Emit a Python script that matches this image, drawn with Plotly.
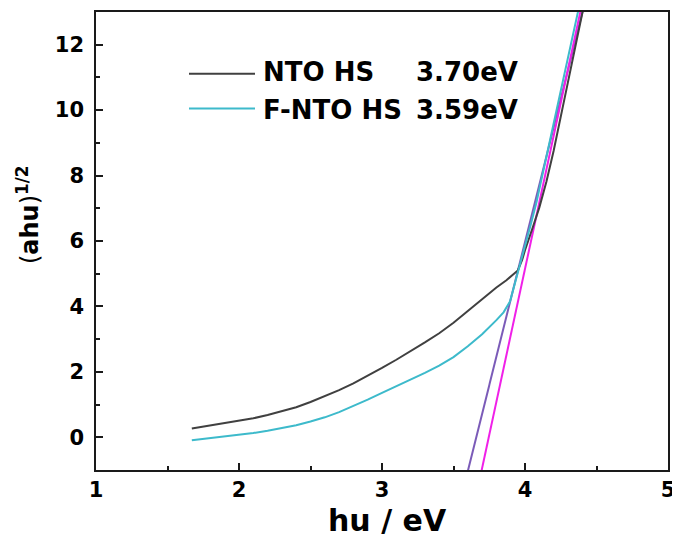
import plotly.graph_objects as go

# ---- data ----
nto_x = [1.67, 1.8, 1.9, 2.0, 2.1, 2.2, 2.3, 2.4, 2.5, 2.6, 2.7, 2.8, 2.9, 3.0, 3.1, 3.2,
         3.3, 3.4, 3.5, 3.6, 3.7, 3.8, 3.87, 3.92, 3.95, 3.98, 4.0, 4.05, 4.1, 4.15,
         4.2, 4.3, 4.4, 4.45]
nto_y = [0.27, 0.36, 0.43, 0.50, 0.58, 0.68, 0.79, 0.92, 1.08, 1.25, 1.44, 1.65, 1.88, 2.12, 2.37, 2.63,
         2.90, 3.18, 3.50, 3.86, 4.22, 4.58, 4.80, 4.98, 5.10, 5.42, 5.72, 6.36, 7.02, 7.82,
         8.75, 10.85, 12.95, 14.0]

fnto_x = [1.67, 1.8, 1.9, 2.0, 2.1, 2.2, 2.3, 2.4, 2.5, 2.6, 2.7, 2.8, 2.9, 3.0, 3.1, 3.2,
          3.3, 3.4, 3.5, 3.6, 3.7, 3.8, 3.85, 3.895, 3.93, 3.96, 4.0, 4.04, 4.08, 4.15,
          4.25, 4.37, 4.42]
fnto_y = [-0.09, -0.03, 0.02, 0.07, 0.13, 0.20, 0.28, 0.37, 0.48, 0.61, 0.77, 0.95, 1.15, 1.36, 1.56, 1.76,
          1.97, 2.19, 2.45, 2.78, 3.15, 3.58, 3.82, 4.15, 4.70, 5.20, 5.85, 6.50, 7.18, 8.55,
          10.55, 12.94, 14.0]

fit_fnto_x = [3.545, 4.459]   # tangent line, F-NTO HS (3.59 eV)
fit_fnto_y = [-2.0, 14.0]
fit_nto_x = [3.648, 4.436]    # tangent line, NTO HS (3.70 eV)
fit_nto_y = [-2.0, 14.0]

legend_names = ["NTO HS", "F-NTO HS"]
legend_gaps = ["3.70eV", "3.59eV"]
x_ticks = [1, 2, 3, 4, 5]
y_ticks = [0, 2, 4, 6, 8, 10, 12]

c_nto = "#404040"
c_fnto = "#3DBACB"
c_fit_f = "#7B5BB8"
c_fit_n = "#F020E8"
FONT = "DejaVu Sans"

fig = go.Figure()
fig.add_trace(go.Scatter(x=fit_fnto_x, y=fit_fnto_y, mode="lines",
                         line=dict(color=c_fit_f, width=2), showlegend=False))
fig.add_trace(go.Scatter(x=fit_nto_x, y=fit_nto_y, mode="lines",
                         line=dict(color=c_fit_n, width=2), showlegend=False))
fig.add_trace(go.Scatter(x=nto_x, y=nto_y, mode="lines", name="NTO HS",
                         line=dict(color=c_nto, width=2), showlegend=False))
fig.add_trace(go.Scatter(x=fnto_x, y=fnto_y, mode="lines", name="F-NTO HS",
                         line=dict(color=c_fnto, width=2), showlegend=False))

# page has an 8px body margin: plot area in window pixels is x 96..668, y 10..470
OFF = 8
W, H = 680 - OFF, 543 - OFF
L, T = 96 - OFF, 10 - OFF
pw, ph = 572, 460
R = W - L - pw
B = H - T - ph


def px(xw):
    return (xw - 96) / pw


def py(yw):
    return (470 - yw) / ph


# manual legend
rows_y = [72, 107]
text_y = [70, 108]
colors = [c_nto, c_fnto]
shapes = []
annotations = []
for i in range(2):
    shapes.append(dict(type="line", xref="paper", yref="paper",
                       x0=px(189), x1=px(255), y0=py(rows_y[i]), y1=py(rows_y[i]),
                       line=dict(color=colors[i], width=2)))
    annotations.append(dict(xref="paper", yref="paper", x=px(261), y=py(text_y[i]),
                            text=legend_names[i], showarrow=False, xanchor="left", yanchor="middle",
                            font=dict(family=FONT, size=26, color="black", weight="bold")))
    annotations.append(dict(xref="paper", yref="paper", x=px(520), y=py(text_y[i]),
                            text=legend_gaps[i], showarrow=False, xanchor="right", yanchor="middle",
                            font=dict(family=FONT, size=26, color="black", weight="bold")))

annotations.append(dict(xref="paper", yref="paper", x=px(387), y=py(521),
                        text="<b>hu / eV</b>", showarrow=False, xanchor="center", yanchor="middle",
                        font=dict(family=FONT, size=30, color="black")))
annotations.append(dict(xref="paper", yref="paper", x=px(28), y=py(214),
                        text="(<b>ahu</b>)<sup><b>1/2</b></sup>", showarrow=False, textangle=-90,
                        xanchor="center", yanchor="middle",
                        font=dict(family=FONT, size=24, color="black")))

axis_common = dict(showgrid=False, zeroline=False, showline=True, linecolor="#1a1a1a",
                   linewidth=1.6, mirror=True, ticks="inside", ticklen=7, tickwidth=1.5,
                   tickcolor="#1a1a1a",
                   tickfont=dict(family=FONT, size=21, color="black", weight="bold"))

fig.update_xaxes(range=[1, 5], tickvals=x_ticks, ticktext=[str(v) for v in x_ticks],
                 minor=dict(ticks="inside", ticklen=4, tickwidth=1.5, dtick=0.5, tick0=1,
                            tickcolor="#1a1a1a"),
                 **axis_common)
fig.update_yaxes(range=[-1, 13], tickvals=y_ticks, ticktext=[str(v) for v in y_ticks],
                 minor=dict(ticks="inside", ticklen=4, tickwidth=1.5, dtick=1, tick0=0,
                            tickcolor="#1a1a1a"),
                 ticklabelstandoff=6,
                 **axis_common)

fig.update_layout(width=W, height=H, margin=dict(l=L, r=R, t=T, b=B, pad=0),
                  plot_bgcolor="white", paper_bgcolor="white",
                  shapes=shapes, annotations=annotations, showlegend=False)

fig.write_html("out.html")
